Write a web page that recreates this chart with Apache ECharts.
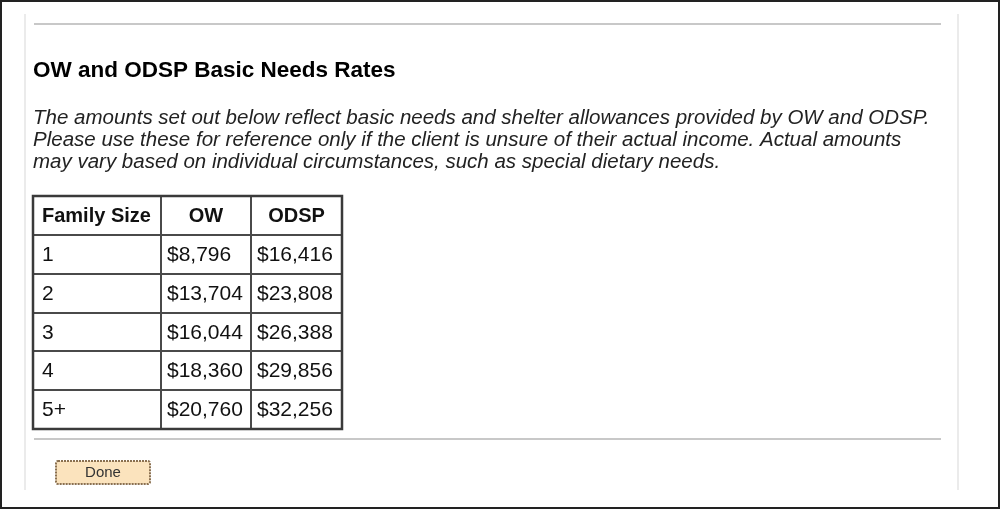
<!DOCTYPE html>
<html>
<head>
<meta charset="utf-8">
<script src="https://cdn.jsdelivr.net/npm/echarts@6/dist/echarts.min.js"></script>
<style>
  html, body { margin: 0; padding: 0; background: #fff; }
  #main { width: 1000px; height: 509px; }
</style>
</head>
<body>
<div id="main"></div>
<script>
const headers = ['Family Size', 'OW', 'ODSP'];
const familySizes = ['1', '2', '3', '4', '5+'];
const owRates = ['$8,796', '$13,704', '$16,044', '$18,360', '$20,760'];
const odspRates = ['$16,416', '$23,808', '$26,388', '$29,856', '$32,256'];
const titleText = 'OW and ODSP Basic Needs Rates';
const noteLines = [
  'The amounts set out below reflect basic needs and shelter allowances provided by OW and ODSP.',
  'Please use these for reference only if the client is unsure of their actual income. Actual amounts',
  'may vary based on individual circumstances, such as special dietary needs.'
];

const chart = echarts.init(document.getElementById('main'));

// table layout
const colX = [33, 161, 251, 342];
const rowY = [196, 235, 274, 313, 351, 390, 429];
const font = 'Arial, "Liberation Sans", sans-serif';

const els = [];
// page frame
els.push({ type: 'rect', shape: { x: 1, y: 1, width: 998, height: 507 }, style: { fill: '#fff', stroke: '#222', lineWidth: 2 } });
els.push({ type: 'line', shape: { x1: 25, y1: 14, x2: 25, y2: 490 }, style: { stroke: '#e4e4e4', lineWidth: 1.5 } });
els.push({ type: 'line', shape: { x1: 958, y1: 14, x2: 958, y2: 490 }, style: { stroke: '#e4e4e4', lineWidth: 1.5 } });
els.push({ type: 'line', shape: { x1: 34, y1: 24, x2: 941, y2: 24 }, style: { stroke: '#c8c8c8', lineWidth: 2 } });
els.push({ type: 'line', shape: { x1: 34, y1: 439, x2: 941, y2: 439 }, style: { stroke: '#c8c8c8', lineWidth: 2 } });

els.push({ type: 'text', x: 33, y: 71, style: { text: titleText, font: 'bold 22.5px ' + font, fill: '#000', verticalAlign: 'middle' } });
noteLines.forEach((t, i) => {
  els.push({ type: 'text', x: 33, y: 118 + i * 22, style: { text: t, font: 'italic 20.5px ' + font, fill: '#222', verticalAlign: 'middle' } });
});

// cells
const rows = [headers].concat(familySizes.map((f, i) => [f, owRates[i], odspRates[i]]));
rows.forEach((row, r) => {
  row.forEach((val, c) => {
    const x0 = colX[c], x1 = colX[c + 1], y0 = rowY[r], y1 = rowY[r + 1];
    els.push({ type: 'rect', shape: { x: x0, y: y0, width: x1 - x0, height: y1 - y0 }, style: { fill: '#fff', stroke: '#4a4a4a', lineWidth: 2 } });
    const header = r === 0;
    const center = header && c > 0;
    els.push({
      type: 'text',
      x: center ? (x0 + x1) / 2 : x0 + (c === 0 ? 9 : 6),
      y: (y0 + y1) / 2 + 1,
      style: { text: val, font: (header ? 'bold 20px ' : '21px ') + font, fill: '#111', align: center ? 'center' : 'left', verticalAlign: 'middle' }
    });
  });
});
els.push({ type: 'rect', shape: { x: colX[0], y: rowY[0], width: colX[3] - colX[0], height: rowY[6] - rowY[0] }, style: { fill: 'none', stroke: '#3a3a3a', lineWidth: 2.5 } });

// Done button
els.push({ type: 'rect', shape: { x: 56, y: 461, width: 94, height: 23, r: 2 }, style: { fill: '#fbe3bd', stroke: '#8a7050', lineWidth: 2, lineDash: [2, 1] } });
els.push({ type: 'text', x: 103, y: 473, style: { text: 'Done', font: '15px ' + font, fill: '#333', align: 'center', verticalAlign: 'middle' } });

chart.setOption({ animation: false, graphic: { elements: els } });
</script>
</body>
</html>
